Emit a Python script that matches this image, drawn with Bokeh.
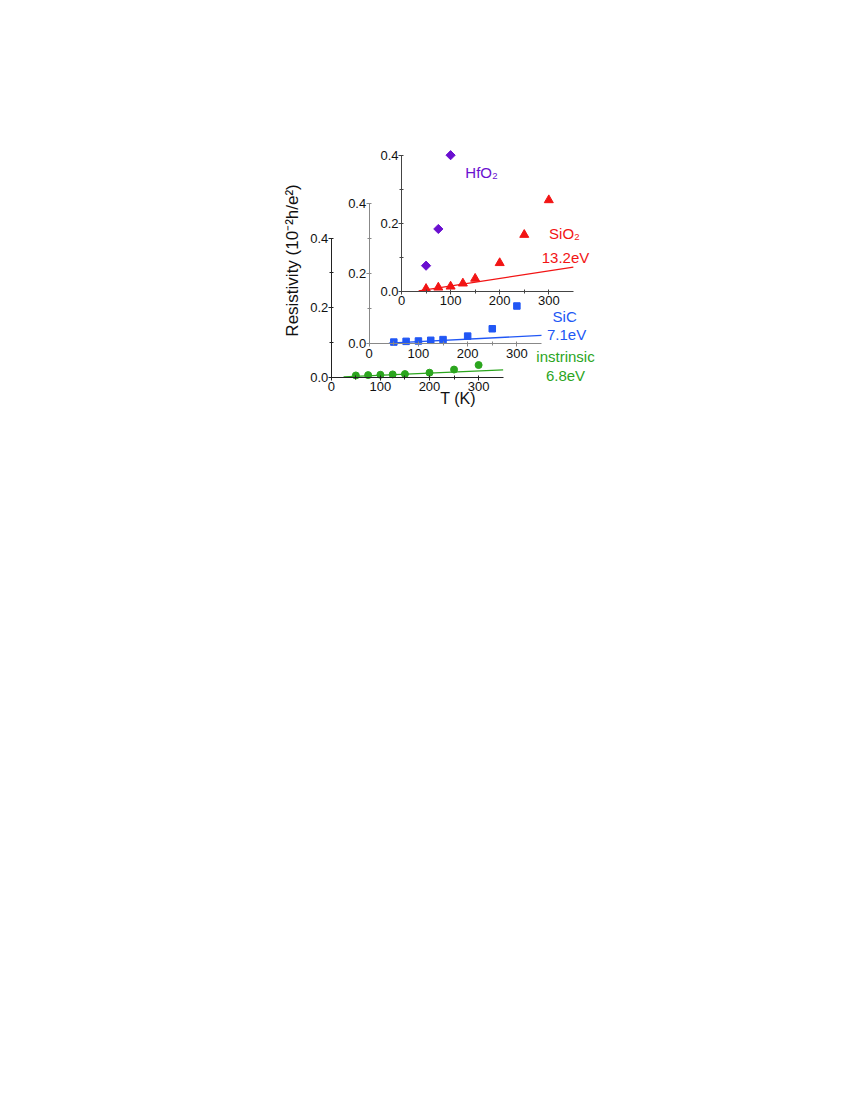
import math
from bokeh.plotting import figure
from bokeh.models import Range1d, LinearAxis, FixedTicker, PrintfTickFormatter
from bokeh.core.properties import value
from bokeh.embed import file_html
from bokeh.resources import INLINE

# ---------------- data ----------------
T_points = [50, 75, 100, 125, 150, 200, 250, 300]
rho_intrinsic = [0.005, 0.006, 0.007, 0.008, 0.009, 0.013, 0.022, 0.035]
rho_sic = [0.005, 0.007, 0.008, 0.010, 0.012, 0.022, 0.043, 0.108]
rho_sio2 = [0.007, 0.011, 0.014, 0.023, 0.037, 0.083, 0.166, 0.268]
T_hfo2 = [50, 75, 100]
rho_hfo2 = [0.075, 0.183, 0.400]

fit_T_intrinsic = [25, 350]
fit_rho_intrinsic = [0.001, 0.021]
fit_T_sic = [40, 350]
fit_rho_sic = [0.002, 0.024]
fit_T_sio2 = [35, 350]
fit_rho_sio2 = [0.001, 0.071]

x_ticks = [0, 100, 200, 300]
x_minor = [50, 150, 250]
y_ticks = [0.0, 0.2, 0.4]
y_minor = [0.1, 0.3]

# ---------------- layout geometry (page pixels) ----------------
FX0, FY0, W, H = 0, 0, 620, 440


def make_ranges(ox, oy, sx, sy):
    xr = Range1d((FX0 - ox) / sx, (FX0 + W - ox) / sx)
    yr = Range1d((oy - (FY0 + H)) / sy, (oy - FY0) / sy)
    return xr, yr


xr1, yr1 = make_ranges(330.8, 376.7, 0.491, 347.5)
xr2, yr2 = make_ranges(368.7, 343.3, 0.4923, 350.0)
xr3, yr3 = make_ranges(401.0, 290.7, 0.491, 340.0)

p = figure(width=W, height=H, x_range=xr1, y_range=yr1,
           x_axis_type=None, y_axis_type=None,
           toolbar_location=None, output_backend="svg",
           min_border=0, outline_line_color=None)
p.title.visible = False
p.extra_x_ranges = {"x2": xr2, "x3": xr3}
p.extra_y_ranges = {"y2": yr2, "y3": yr3}

FONT = "Liberation Sans"


def add_axes(xname, yname, color):
    xa = LinearAxis(x_range_name=xname, y_range_name=yname, fixed_location=0,
                    bounds=(0, 350),
                    ticker=FixedTicker(ticks=x_ticks, minor_ticks=x_minor))
    ya = LinearAxis(x_range_name=xname, y_range_name=yname, fixed_location=0,
                    bounds=(0, 0.4),
                    ticker=FixedTicker(ticks=y_ticks, minor_ticks=y_minor),
                    formatter=PrintfTickFormatter(format="%.1f"))
    for a in (xa, ya):
        a.axis_line_color = color
        a.axis_line_width = 1
        a.major_tick_line_color = color
        a.minor_tick_line_color = color
        a.major_tick_in = 2
        a.major_tick_out = 3
        a.minor_tick_in = 2
        a.minor_tick_out = 2
        a.major_label_text_font = FONT
        a.major_label_text_font_size = "13px"
        a.major_label_text_color = "#111111"
    xa.major_label_standoff = 2
    ya.major_label_standoff = 0
    p.add_layout(xa, "below")
    p.add_layout(ya, "left")


add_axes("default", "default", "#222222")
add_axes("x2", "y2", "#888888")
add_axes("x3", "y3", "#444444")

GREEN = "#2BA51E"
BLUE = "#2157F5"
RED = "#F21414"
PURPLE = "#6A0FD0"

# panel 1: intrinsic
p.line(fit_T_intrinsic, fit_rho_intrinsic, line_color=GREEN, line_width=1.3)
p.scatter(T_points, rho_intrinsic, marker="circle", size=7,
          fill_color=GREEN, line_color=GREEN)

# panel 2: SiC
p.line(fit_T_sic, fit_rho_sic, line_color=BLUE, line_width=1.3,
       x_range_name="x2", y_range_name="y2")
p.scatter(T_points, rho_sic, marker="square", size=6.5,
          fill_color=BLUE, line_color=BLUE,
          x_range_name="x2", y_range_name="y2")

# panel 3: SiO2 and HfO2
p.line(fit_T_sio2, fit_rho_sio2, line_color=RED, line_width=1.3,
       x_range_name="x3", y_range_name="y3")
p.scatter(T_points, rho_sio2, marker="triangle", size=9,
          fill_color=RED, line_color=RED,
          x_range_name="x3", y_range_name="y3")
p.scatter(T_hfo2, rho_hfo2, marker="square", size=6.5, angle=math.pi / 4,
          fill_color=PURPLE, line_color=PURPLE,
          x_range_name="x3", y_range_name="y3")


def label(x, y, txt, color, size="15px", align="center", angle=0.0,
          xname="default", yname="default"):
    p.text(x=[x], y=[y], text=[txt], angle=angle,
           text_font=value(FONT), text_font_size=value(size),
           text_color=color, text_align=align, text_baseline="middle",
           x_range_name=xname, y_range_name=yname)


label(130, 0.349, "HfO\u2082", PURPLE, align="left", xname="x3", yname="y3")
label(332, 0.170, "SiO\u2082", RED, xname="x3", yname="y3")
label(334, 0.100, "13.2eV", RED, xname="x3", yname="y3")
label(397, 0.078, "SiC", BLUE, xname="x2", yname="y2")
label(401, 0.027, "7.1eV", BLUE, xname="x2", yname="y2")
label(477, 0.060, "instrinsic", GREEN)
label(477, 0.006, "6.8eV", GREEN)
label(258, -0.061, "T (K)", "#111111", size="16px")
label(-79, 0.336, "Resistivity (10\u207b\u00b2h/e\u00b2)", "#111111",
      size="17px", angle=math.pi / 2)

open("out.html", "w").write(file_html(p, INLINE))
